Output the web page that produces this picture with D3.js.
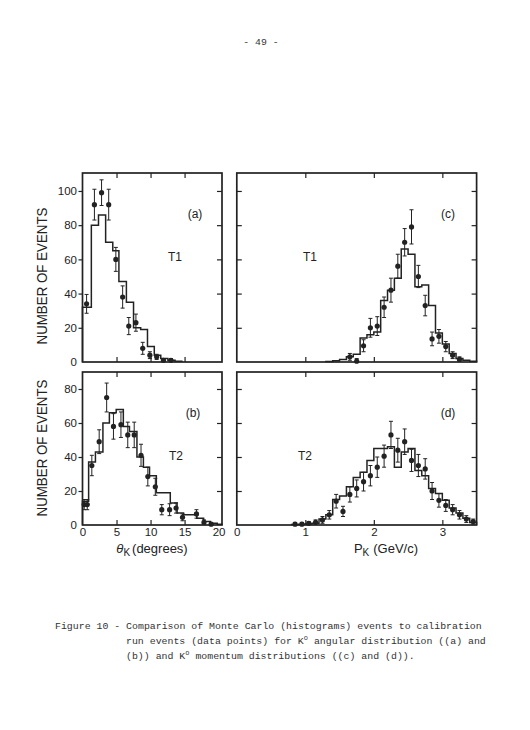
<!DOCTYPE html>
<html><head><meta charset="utf-8">
<script src="https://cdn.jsdelivr.net/npm/d3@7"></script>
<style>body{margin:0;background:#fff}svg{display:block}</style>
</head><body>
<script>
// ---------- data ----------
const angTicks = [0, 5, 10, 15, 20];
const momTicks = [0, 1, 2, 3];
const countTicksTop = [0, 20, 40, 60, 80, 100];
const countTicksBot = [0, 20, 40, 60, 80];

// (a) T1 angular
const edgesA = [0, 1.3, 2.35, 3.4, 4.45, 5.35, 6.45, 7.5, 8.55, 9.55, 10.55, 11.5, 12.55, 13.6, 14.6];
const histA  = [32, 80, 86, 70, 65, 47, 35, 20, 19, 9, 4, 2, 1, 0.5];
const ptsXA  = [0.6, 1.75, 2.8, 3.85, 4.9, 5.9, 6.8, 7.85, 8.85, 9.9, 10.9, 11.9, 13.0];
const ptsYA  = [34, 92, 99, 92, 60, 38, 21, 23, 8, 4, 3, 1, 1];
const errA   = [5.5, 9, 7.5, 9, 7, 6.5, 5, 5, 3.5, 2, 1.5, 1, 1];

// (b) T2 angular
const edgesB = [0, 0.9, 1.9, 3.0, 3.95, 4.95, 6.0, 6.9, 8.0, 8.95, 9.85, 10.85, 11.8, 12.9, 13.9, 14.85, 15.8, 16.8, 17.8, 18.8, 19.8, 20.5];
const histB  = [14, 37, 43, 60, 66, 68, 58, 55, 40, 34, 29, 19, 19, 13, 7, 6, 6, 4, 2, 1, 0.5];
const ptsXB  = [0.25, 0.7, 1.37, 2.45, 3.55, 4.55, 5.65, 6.65, 7.6, 8.6, 9.6, 10.7, 11.65, 12.8, 13.75, 14.7, 16.75, 17.85, 18.9];
const ptsYB  = [12, 12, 35, 49, 75, 58, 59, 53, 53, 41, 28.5, 22.5, 9, 9, 10, 4.5, 6.5, 1.5, 0.5];
const errB   = [3, 3, 6, 7, 8.5, 7.5, 7.5, 7.5, 7.5, 6.5, 5.5, 5, 3, 3.5, 3, 2, 2.5, 1.5, 1];

// (c) T1 momentum
const edgesC = [1.3, 1.4, 1.5, 1.6, 1.7, 1.8, 1.9, 2.0, 2.1, 2.2, 2.3, 2.4, 2.5, 2.6, 2.7, 2.8, 2.9, 3.0, 3.1, 3.2, 3.3, 3.4, 3.5];
const histC  = [0.3, 0.7, 1.5, 3, 4.5, 14, 16, 17.5, 36, 42, 49, 66, 63, 44, 45, 33, 17, 10.5, 5, 2, 1, 0.5];
const ptsXC  = [1.65, 1.75, 1.85, 1.95, 2.05, 2.15, 2.25, 2.35, 2.45, 2.55, 2.65, 2.75, 2.85, 2.95, 3.05, 3.15, 3.25];
const ptsYC  = [3, 0.5, 9.5, 20, 21, 32, 42, 56, 70, 79, 50, 33, 13.5, 15, 9, 4, 1.5];
const errC   = [2, 1.5, 3.5, 5.5, 5.5, 6, 7, 7, 8, 10, 6.5, 6, 4, 4, 3, 2, 1.5];

// (d) T2 momentum
const edgesD = [0.8, 0.9, 1.0, 1.1, 1.2, 1.3, 1.4, 1.5, 1.6, 1.7, 1.8, 1.9, 2.0, 2.1, 2.2, 2.3, 2.4, 2.5, 2.6, 2.7, 2.8, 2.9, 3.0, 3.1, 3.2, 3.3, 3.4, 3.5];
const histD  = [0.3, 0.5, 0.8, 1, 3.5, 6, 15, 17, 22.5, 28, 31, 38, 45, 45, 46, 34, 43, 45, 32, 29, 21.5, 18.5, 14.5, 10, 7, 4, 1.5];
const ptsXD  = [0.85, 0.95, 1.05, 1.15, 1.25, 1.35, 1.45, 1.55, 1.65, 1.75, 1.85, 1.95, 2.05, 2.15, 2.25, 2.35, 2.45, 2.55, 2.65, 2.75, 2.85, 2.95, 3.05, 3.15, 3.25, 3.35, 3.45];
const ptsYD  = [0.5, 0.5, 1, 1.5, 3, 6, 14, 8, 18, 21.5, 25.5, 29, 34, 40.5, 53, 44, 49, 38, 35, 33, 20, 14.5, 11.5, 9, 6, 3.5, 2];
const errD   = [1, 1, 1, 1.5, 2, 2.5, 4, 3, 4.5, 5, 5.5, 6, 6, 6.5, 8, 7, 7.5, 6.5, 6.5, 6, 5, 4, 3.5, 3, 2.5, 2, 1.5];

const captionLines = [
  "Figure 10 - Comparison of Monte Carlo (histograms) events to calibration",
  "run events (data points) for K|o| angular distribution ((a) and",
  "(b)) and K|o| momentum distributions ((c) and (d))."
];

// ---------- drawing ----------
const W = 530, H = 730;
const INK = "#222";
const svg = d3.select("body").append("svg").attr("width", W).attr("height", H)
  .style("background", "#fff");

const LX = [82.5, 222], RX = [236.8, 476.6];
const TY = [362, 173], BY = [525, 372];

const xAng = d3.scaleLinear().domain([0, 20.5]).range(LX);
const xMom = d3.scaleLinear().domain([0, 3.5]).range(RX);
const yTop = d3.scaleLinear().domain([0, 110.5]).range(TY).clamp(true);
const yBot = d3.scaleLinear().domain([0, 90]).range(BY).clamp(true);

const FONT = "'Liberation Sans', Arial, sans-serif";
const MONO = "'Liberation Mono', 'DejaVu Sans Mono', monospace";
const fmtInt = d3.format("d");

function styleAxis(g) {
  g.select(".domain").remove();
  g.selectAll("line").attr("stroke", INK).attr("stroke-width", 1.2);
  g.selectAll("text").attr("fill", INK).style("font-family", FONT).style("font-size", "11.5px");
}

function panel(x, y, xt, yt, edges, hist, px, py, pe, opts) {
  const g = svg.append("g");
  const [x0, x1] = x.range(), [y0, y1] = y.range();
  const innerX = xt.filter(v => v > 0 && x(v) < x1 - 4);
  // inner ticks
  g.append("g").attr("transform", `translate(0,${y0})`)
    .call(d3.axisTop(x).tickValues(innerX).tickSize(5).tickFormat(""))
    .call(styleAxis);
  g.append("g").attr("transform", `translate(0,${y1})`)
    .call(d3.axisBottom(x).tickValues(innerX).tickSize(5).tickFormat(""))
    .call(styleAxis);
  g.append("g").attr("transform", `translate(${x1},0)`)
    .call(d3.axisLeft(y).tickValues(yt.filter(v => v > 0)).tickSize(5).tickFormat(""))
    .call(styleAxis);
  if (opts.leftLabels) {
    g.append("g").attr("transform", `translate(${x0},0)`)
      .call(d3.axisLeft(y).tickValues(yt).tickSize(4).tickPadding(1.5).tickFormat(fmtInt))
      .call(styleAxis)
      .call(a => a.selectAll(".tick").filter(d => d === 0).select("line").remove());
  } else {
    g.append("g").attr("transform", `translate(${x0},0)`)
      .call(d3.axisRight(y).tickValues(yt.filter(v => v > 0)).tickSize(5).tickFormat(""))
      .call(styleAxis);
  }
  if (opts.bottomLabels) {
    g.append("g").attr("transform", `translate(0,${y0})`)
      .call(d3.axisBottom(x).tickValues(xt).tickSize(0).tickPadding(3).tickFormat(fmtInt))
      .call(styleAxis);
  }
  // histogram
  const hp = [[edges[0], 0]];
  hist.forEach((v, i) => { hp.push([edges[i], v]); hp.push([edges[i + 1], v]); });
  hp.push([edges[edges.length - 1], 0]);
  g.append("path").datum(hp)
    .attr("d", d3.line().x(d => x(d[0])).y(d => y(d[1])))
    .attr("fill", "none").attr("stroke", INK).attr("stroke-width", 1.5)
    .attr("stroke-linejoin", "miter");
  // data points with error bars
  const pts = px.map((v, i) => ({ x: v, y: py[i], e: pe[i] }));
  const eb = g.append("g").attr("stroke", INK).attr("stroke-width", 1);
  pts.forEach(p => {
    const cx = x(p.x), ya = y(p.y + p.e), yb = y(p.y - p.e);
    eb.append("line").attr("x1", cx).attr("x2", cx).attr("y1", ya).attr("y2", yb);
    eb.append("line").attr("x1", cx - 2).attr("x2", cx + 2).attr("y1", ya).attr("y2", ya);
    if (p.y - p.e > 0)
      eb.append("line").attr("x1", cx - 2).attr("x2", cx + 2).attr("y1", yb).attr("y2", yb);
  });
  g.append("g").selectAll("circle").data(pts).join("circle")
    .attr("cx", d => x(d.x)).attr("cy", d => y(d.y)).attr("r", 2.6).attr("fill", INK);
  // frame
  g.append("rect").attr("x", x0).attr("y", y1).attr("width", x1 - x0).attr("height", y0 - y1)
    .attr("fill", "none").attr("stroke", INK).attr("stroke-width", 1.7);
  // labels
  g.append("text").attr("x", opts.tagX).attr("y", y1 + 45).text(opts.tag)
    .attr("fill", INK).style("font-family", FONT).style("font-size", "12px").attr("text-anchor", "middle");
  g.append("text").attr("x", opts.trigX).attr("y", y1 + 88).text(opts.trig)
    .attr("fill", INK).style("font-family", FONT).style("font-size", "12px").attr("text-anchor", "middle");
}

panel(xAng, yTop, angTicks, countTicksTop, edgesA, histA, ptsXA, ptsYA, errA,
  { leftLabels: true, bottomLabels: false, tag: "(a)", tagX: 195, trig: "T1", trigX: 175 });
panel(xAng, yBot, angTicks, countTicksBot, edgesB, histB, ptsXB, ptsYB, errB,
  { leftLabels: true, bottomLabels: true, tag: "(b)", tagX: 193, trig: "T2", trigX: 176 });
panel(xMom, yTop, momTicks, countTicksTop, edgesC, histC, ptsXC, ptsYC, errC,
  { leftLabels: false, bottomLabels: false, tag: "(c)", tagX: 448, trig: "T1", trigX: 310 });
panel(xMom, yBot, momTicks, countTicksBot, edgesD, histD, ptsXD, ptsYD, errD,
  { leftLabels: false, bottomLabels: true, tag: "(d)", tagX: 448, trig: "T2", trigX: 305 });

// y-axis titles
[[276], [448]].forEach(([cy]) => {
  svg.append("text").attr("transform", `translate(47,${cy}) rotate(-90)`)
    .attr("text-anchor", "middle").attr("fill", INK)
    .attr("textLength", 137).attr("lengthAdjust", "spacingAndGlyphs")
    .style("font-family", FONT).style("font-size", "14.5px").text("NUMBER OF EVENTS");
});

// x-axis titles
const t1 = svg.append("text").attr("x", 152).attr("y", 553).attr("text-anchor", "middle")
  .attr("fill", INK).style("font-family", FONT).style("font-size", "13px");
t1.append("tspan").text("θ").style("font-style", "italic");
t1.append("tspan").text("K").attr("dy", 3).style("font-size", "10px");
t1.append("tspan").text("(degrees)").attr("dy", -3).attr("dx", 2);

const t2 = svg.append("text").attr("x", 386).attr("y", 553).attr("text-anchor", "middle")
  .attr("fill", INK).style("font-family", FONT).style("font-size", "13px");
t2.append("tspan").text("P");
t2.append("tspan").text("K").attr("dy", 3).style("font-size", "10px");
t2.append("tspan").text("(GeV/c)").attr("dy", -3).attr("dx", 4);

// page number
svg.append("text").attr("x", 261).attr("y", 45).attr("text-anchor", "middle")
  .attr("fill", "#333").style("font-family", MONO).style("font-size", "9.8px")
  .style("white-space", "pre").text("- 49 -");

// caption
const capX = [55, 126, 126], capY = [629, 644, 659];
captionLines.forEach((line, i) => {
  const t = svg.append("text").attr("x", capX[i]).attr("y", capY[i]).attr("fill", "#333")
    .style("font-family", MONO).style("font-size", "9.9px").style("white-space", "pre");
  line.split("|").forEach((part, j) => {
    if (j % 2 === 1) {
      t.append("tspan").text(part).attr("dy", -4).style("font-size", "7px");
    } else {
      const ts = t.append("tspan").text(part);
      if (j > 0) ts.attr("dy", 4);
    }
  });
});
</script>
</body></html>
